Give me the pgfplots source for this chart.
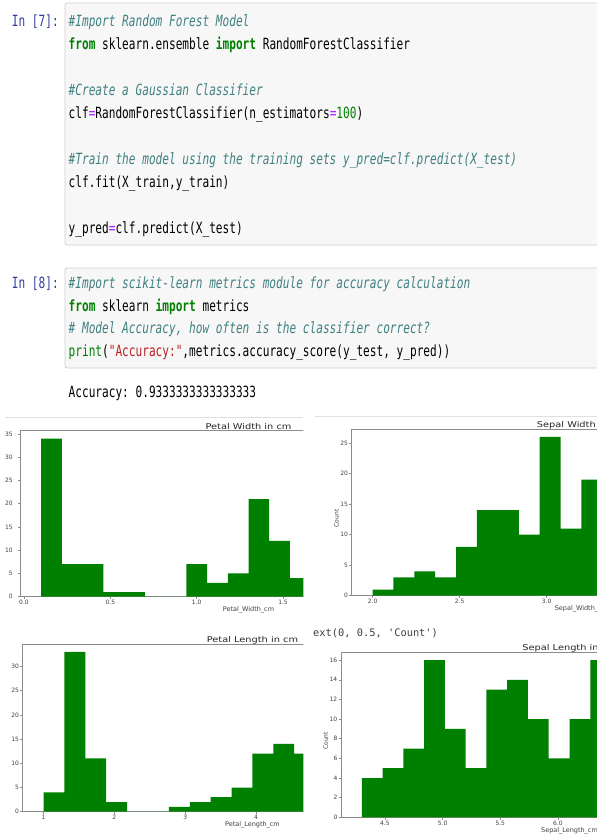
\documentclass[border=0pt]{standalone}
\usepackage{fontspec}
\setmonofont{DejaVu Sans Mono}
\newfontfamily\plotfont{DejaVu Sans}
\usepackage{graphicx}
\usepackage{pgfplots}
\pgfplotsset{compat=1.18}

\definecolor{cmt}{HTML}{408080}
\definecolor{kw}{HTML}{008000}
\definecolor{opc}{HTML}{AA22FF}
\definecolor{strc}{HTML}{BA2121}
\definecolor{prompt}{HTML}{303F9F}
\definecolor{cellbg}{HTML}{F7F7F7}
\definecolor{cellbd}{HTML}{CFCFCF}
\definecolor{histg}{HTML}{008000}
\definecolor{spine}{HTML}{8C8C8C}
\definecolor{ticklab}{HTML}{404040}

\newcommand\codefont{\ttfamily\fontsize{15.5}{18}\selectfont}
\newcommand\cm[1]{{\color{cmt}\itshape #1}}
\newcommand\kw[1]{{\color{kw}\bfseries #1}}
\newcommand\op[1]{{\color{opc}#1}}
\newcommand\nm[1]{{\color{kw}#1}}
\newcommand\st[1]{{\color{strc}#1}}
\newcommand\codeline[3]{\node[anchor=base west, inner sep=0pt, font=\codefont] at (#1bp,-#2bp) {\scalebox{0.72}[1]{#3}};}

\pgfplotsset{hist/.style={
  scale only axis,
  axis line style={spine, line width=0.7bp},
  tick pos=left, tick align=outside,
  major tick length=2.5bp,
  every tick/.style={spine, line width=0.6bp},
  ymin=0, clip=true,
  /pgf/number format/assume math mode=true,
  ticklabel style={font=\plotfont\fontsize{6}{6}\selectfont, text=ticklab, inner sep=1bp},
  every axis title/.style={at={(0.5,1)}, anchor=base, yshift=1.6bp, inner sep=0pt,
     font=\plotfont\fontsize{8}{8}\selectfont, text=black!85},
  xlabel style={font=\plotfont\fontsize{6.5}{6.5}\selectfont, text=ticklab, inner sep=0.5bp},
  ylabel style={font=\plotfont\fontsize{6}{6}\selectfont, text=ticklab, inner sep=0.5bp, xshift=-6bp},
}}

\begin{document}
\begin{tikzpicture}
\useasboundingbox (0,0) rectangle (597bp,-837bp);
\clip (0,0) rectangle (597bp,-837bp);
\fill[white] (0,0) rectangle (597bp,-837bp);

% code cell 1
\filldraw[fill=cellbg, draw=cellbd, line width=0.8bp, rounded corners=2bp] (65bp,-3bp) rectangle (605bp,-245bp);
\node[anchor=base west, inner sep=0pt, font=\codefont, text=prompt] at (11.7bp,-26.5bp) {\scalebox{0.72}[1]{In [7]:}};
\codeline{68.5}{26.5}{\cm{\#Import Random Forest Model}}
\codeline{68.5}{49.5}{\kw{from} sklearn.ensemble \kw{import} RandomForestClassifier}
\codeline{68.5}{95.5}{\cm{\#Create a Gaussian Classifier}}
\codeline{68.5}{118.5}{clf\op{=}RandomForestClassifier(n\_estimators\op{=}\nm{100})}
\codeline{68.5}{164.5}{\cm{\#Train the model using the training sets y\_pred=clf.predict(X\_test)}}
\codeline{68.5}{187.5}{clf.fit(X\_train,y\_train)}
\codeline{68.5}{233.5}{y\_pred\op{=}clf.predict(X\_test)}

% code cell 2
\filldraw[fill=cellbg, draw=cellbd, line width=0.8bp, rounded corners=2bp] (65bp,-268bp) rectangle (605bp,-368bp);
\node[anchor=base west, inner sep=0pt, font=\codefont, text=prompt] at (11.7bp,-288.5bp) {\scalebox{0.72}[1]{In [8]:}};
\codeline{68.5}{288.5}{\cm{\#Import scikit-learn metrics module for accuracy calculation}}
\codeline{68.5}{311.2}{\kw{from} sklearn \kw{import} metrics}
\codeline{68.5}{333.9}{\cm{\# Model Accuracy, how often is the classifier correct?}}
\codeline{68.5}{356.6}{\nm{print}(\st{"Accuracy:"},metrics.accuracy\_score(y\_test, y\_pred))}
\codeline{68.5}{397.5}{Accuracy: 0.9333333333333333}

% separators
\draw[black!12, line width=0.8bp] (5bp,-417bp) -- (303bp,-417bp);
\draw[black!12, line width=0.8bp] (315bp,-416bp) -- (597bp,-416bp);

\node[anchor=base west, inner sep=0pt, font=\ttfamily\fontsize{10.4}{12}\selectfont, text=black!75] at (313bp,-636bp) {ext(0, 0.5, 'Count')};

% Petal Width
\begin{scope}
\clip (0,0) rectangle (303.3bp,-837bp);
\begin{axis}[hist, at={(20.5bp,-596.7bp)}, anchor=south west, width=456bp, height=166bp,
  xmin=-0.02, xmax=2.62, ymax=35.7,
  xtick={0,0.5,1,1.5,2,2.5}, xticklabels={0.0,0.5,1.0,1.5,2.0,2.5},
  ytick={0,5,10,15,20,25,30,35},
  yticklabel style={xshift=-4bp},
  title={\scalebox{1.23}[1]{Petal Width in cm}}, xlabel={Petal\_Width\_cm}]
\addplot[ybar interval, fill=histg, draw=none] coordinates {
(0.10,34) (0.22,7) (0.34,7) (0.46,1) (0.58,1) (0.70,0) (0.82,0) (0.94,7) (1.06,3) (1.18,5) (1.30,21) (1.42,12) (1.54,4) (1.66,0)};
\end{axis}
\end{scope}

% Sepal Width
\begin{axis}[hist, at={(351.7bp,-595.7bp)}, anchor=south west, width=459.4bp, height=166.7bp,
  xmin=1.88, xmax=4.52, ymax=27.3,
  xtick={2,2.5,3,3.5,4,4.5}, xticklabels={2.0,2.5,3.0,3.5,4.0,4.5},
  ytick={0,5,10,15,20,25},
  title={\scalebox{1.23}[1]{Sepal Width in cm}}, xlabel={Sepal\_Width\_cm}, ylabel={Count}]
\addplot[ybar interval, fill=histg, draw=none] coordinates {
(2.00,1) (2.12,3) (2.24,4) (2.36,3) (2.48,8) (2.60,14) (2.72,14) (2.84,10) (2.96,26) (3.08,11) (3.20,19) (3.32,0)};
\end{axis}

% Petal Length
\begin{scope}
\clip (0,0) rectangle (303.3bp,-837bp);
\begin{axis}[hist, at={(22.7bp,-811.7bp)}, anchor=south west, width=459.5bp, height=167.7bp,
  xmin=0.705, xmax=7.195, ymax=34.65,
  xtick={1,2,3,4,5,6,7},
  ytick={0,5,10,15,20,25,30},
  title={\scalebox{1.23}[1]{Petal Length in cm}}, xlabel={Petal\_Length\_cm}]
\addplot[ybar interval, fill=histg, draw=none] coordinates {
(1.000,4) (1.295,33) (1.590,11) (1.885,2) (2.180,0) (2.475,0) (2.770,1) (3.065,2) (3.360,3) (3.655,5) (3.950,12) (4.245,14) (4.540,12) (4.835,0)};
\end{axis}
\end{scope}

% Sepal Length
\begin{axis}[hist, at={(341bp,-817.3bp)}, anchor=south west, width=457bp, height=165bp,
  xmin=4.12, xmax=8.08, ymax=16.8,
  xtick={4.5,5,5.5,6,6.5,7,7.5,8}, xticklabels={4.5,5.0,5.5,6.0,6.5,7.0,7.5,8.0},
  ytick={0,2,4,6,8,10,12,14,16},
  title={\scalebox{1.23}[1]{Sepal Length in cm}}, xlabel={Sepal\_Length\_cm}, ylabel={Count}]
\addplot[ybar interval, fill=histg, draw=none] coordinates {
(4.30,4) (4.48,5) (4.66,7) (4.84,16) (5.02,9) (5.20,5) (5.38,13) (5.56,14) (5.74,10) (5.92,6) (6.10,10) (6.28,16) (6.46,0)};
\end{axis}
\end{tikzpicture}
\end{document}
